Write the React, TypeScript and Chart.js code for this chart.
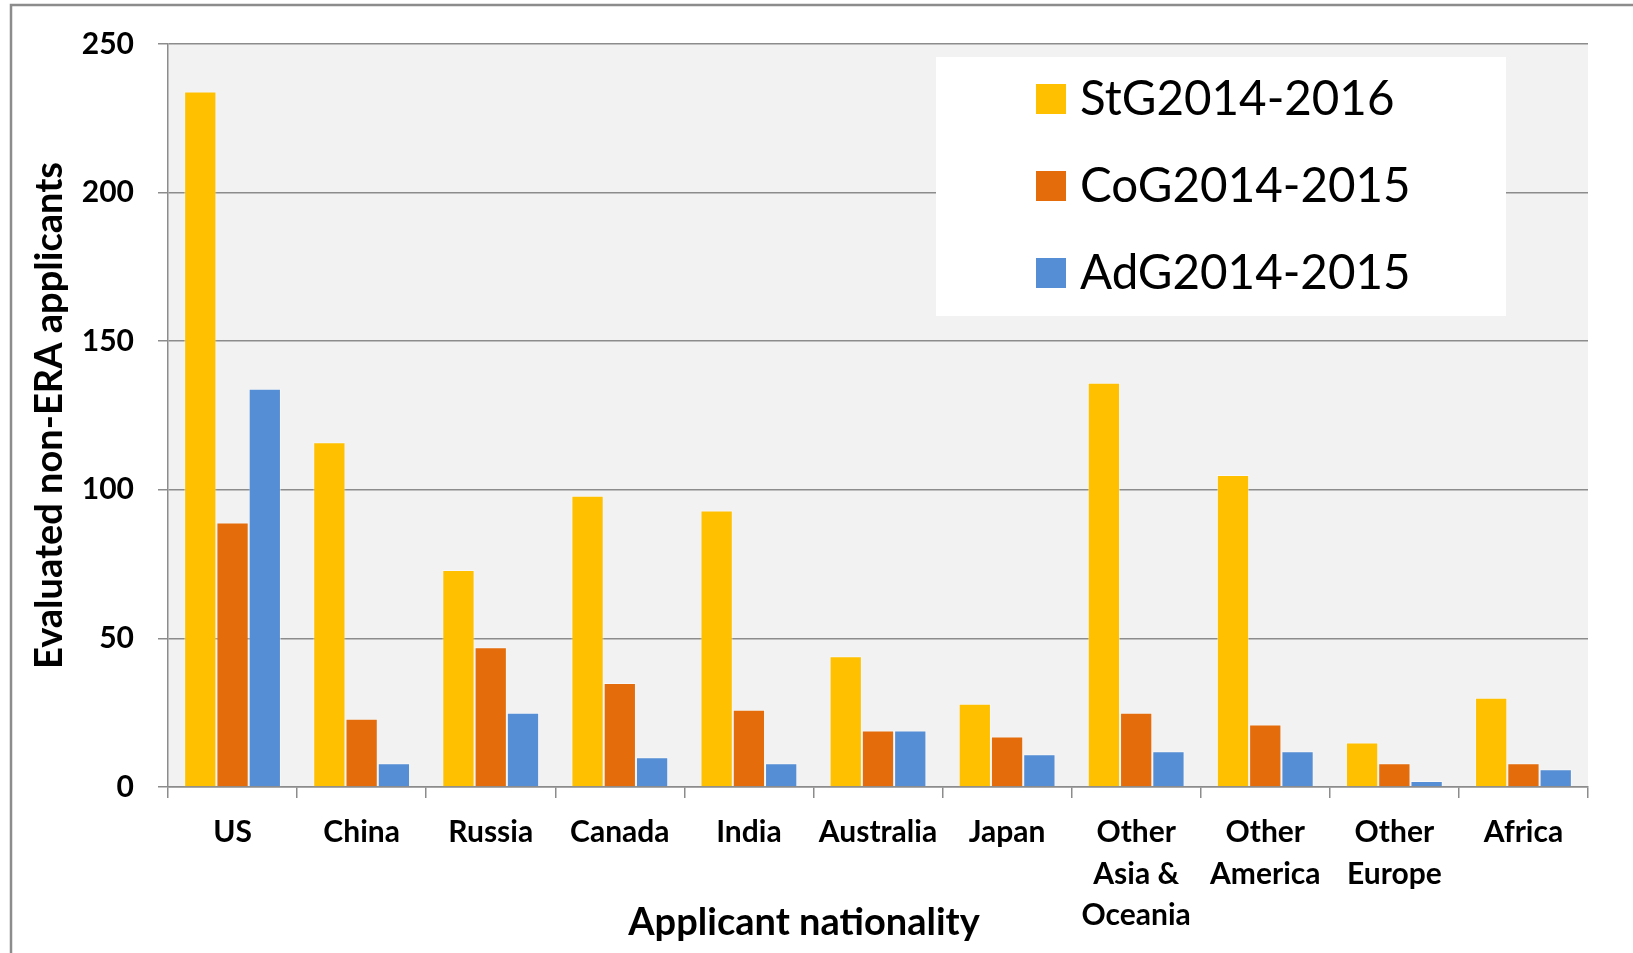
import React, { useEffect, useRef } from "react";
import { Chart, registerables } from "chart.js";

Chart.register(...registerables);

const categories: (string | string[])[] = [
  "US",
  "China",
  "Russia",
  "Canada",
  "India",
  "Australia",
  "Japan",
  ["Other", "Asia &", "Oceania"],
  ["Other", "America"],
  ["Other", "Europe"],
  "Africa",
];

const seriesNames = ["StG2014-2016", "CoG2014-2015", "AdG2014-2015"];
const seriesColors = ["#FFC000", "#E46C0A", "#558ED5"];

const stgValues = [234, 116, 73, 98, 93, 44, 28, 136, 105, 15, 30];
const cogValues = [89, 23, 47, 35, 26, 19, 17, 25, 21, 8, 8];
const adgValues = [134, 8, 25, 10, 8, 19, 11, 12, 12, 2, 6];

const yTicks = [0, 50, 100, 150, 200, 250];

const yTitle = "Evaluated non-ERA applicants";
const xTitle = "Applicant nationality";

const FONT = "Lato, 'Open Sans', sans-serif";

export default function App() {
  const canvasRef = useRef<HTMLCanvasElement | null>(null);

  useEffect(() => {
    const canvas = canvasRef.current;
    if (!canvas) return;

    const decorPlugin = {
      id: "decor",
      beforeDraw(chart: any) {
        const { ctx, chartArea } = chart;
        ctx.save();
        ctx.fillStyle = "#ffffff";
        ctx.fillRect(0, 0, chart.width, chart.height);
        // outer frame
        ctx.strokeStyle = "#8c8c8c";
        ctx.lineWidth = 2.5;
        ctx.beginPath();
        ctx.moveTo(11, chart.height + 5);
        ctx.lineTo(11, 5);
        ctx.lineTo(chart.width + 5, 5);
        ctx.stroke();
        // plot background
        ctx.fillStyle = "#f2f2f2";
        ctx.fillRect(
          chartArea.left,
          chartArea.top,
          chartArea.right - chartArea.left,
          chartArea.bottom - chartArea.top
        );
        ctx.restore();
      },
      afterDraw(chart: any) {
        const { ctx, chartArea } = chart;
        ctx.save();
        // axis titles
        ctx.fillStyle = "#000000";
        ctx.font = `bold 38px ${FONT}`;
        ctx.textAlign = "center";
        ctx.textBaseline = "middle";
        ctx.fillText(xTitle, 804, 923);
        ctx.save();
        ctx.translate(50, (chartArea.top + chartArea.bottom) / 2);
        ctx.rotate(-Math.PI / 2);
        ctx.fillText(yTitle, 0, 0);
        ctx.restore();

        // legend box
        ctx.fillStyle = "#ffffff";
        ctx.fillRect(936, 57, 570, 259);
        const rowY = [99, 186, 273];
        ctx.font = `47.5px ${FONT}`;
        ctx.textAlign = "left";
        ctx.textBaseline = "middle";
        chart.data.datasets.forEach((ds: any, i: number) => {
          ctx.fillStyle = ds.backgroundColor;
          ctx.fillRect(1036, rowY[i] - 15, 30, 30);
          ctx.fillStyle = "#000000";
          ctx.fillText(ds.label, 1080, rowY[i] + 1);
        });
        ctx.restore();
      },
    };

    const chart = new Chart(canvas, {
      type: "bar",
      data: {
        labels: categories,
        datasets: [stgValues, cogValues, adgValues].map((vals, i) => ({
          label: seriesNames[i],
          data: vals,
          backgroundColor: seriesColors[i],
          borderColor: "rgba(255,255,255,0.45)",
          borderWidth: 1,
          categoryPercentage: 0.75,
          barPercentage: 1,
        })),
      },
      options: {
        responsive: false,
        animation: false,
        devicePixelRatio: 1,
        layout: { padding: { left: 0, top: 44, right: 45, bottom: 0 } },
        plugins: {
          legend: { display: false },
          tooltip: { enabled: false },
          title: { display: false },
        },
        scales: {
          x: {
            offset: true,
            grid: {
              display: true,
              offset: true,
              drawOnChartArea: false,
              drawTicks: true,
              tickLength: 11,
              color: "#8c8c8c",
              lineWidth: 1.5,
            },
            border: { display: true, color: "#8c8c8c", width: 1.5 },
            ticks: {
              color: "#000000",
              font: { family: FONT, size: 30, weight: "bold", lineHeight: 1.383 },
              padding: 14,
              maxRotation: 0,
              minRotation: 0,
              autoSkip: false,
            },
            afterFit(scale: any) {
              scale.height = 166;
            },
          },
          y: {
            min: 0,
            max: 250,
            afterBuildTicks(scale: any) {
              scale.ticks = yTicks.map((v) => ({ value: v }));
            },
            grid: {
              color: "#8c8c8c",
              lineWidth: 1.5,
              drawTicks: true,
              tickLength: 10,
            },
            border: { display: true, color: "#8c8c8c", width: 1.5 },
            ticks: {
              color: "#000000",
              font: { family: FONT, size: 30, weight: "bold" },
              padding: 24,
            },
            afterFit(scale: any) {
              scale.width = 168;
            },
          },
        },
      },
      plugins: [decorPlugin],
    } as any);

    return () => {
      chart.destroy();
    };
  }, []);

  return (
    <div style={{ position: "absolute", left: 0, top: 0, width: 1633, height: 953, overflow: "hidden", background: "#fff" }}>
      <canvas ref={canvasRef} width={1633} height={953} style={{ display: "block", width: 1633, height: 953 }} />
    </div>
  );
}
